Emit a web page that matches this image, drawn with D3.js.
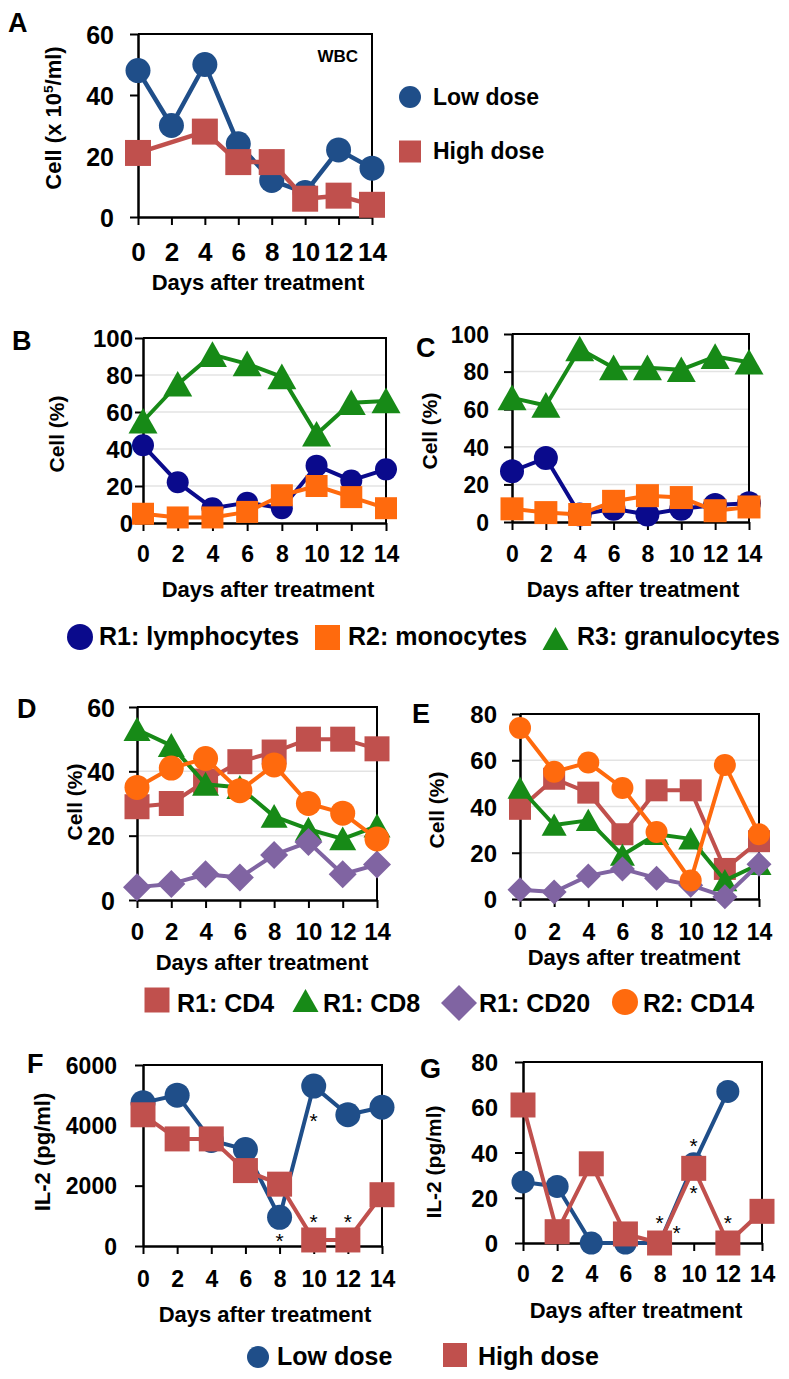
<!DOCTYPE html>
<html><head><meta charset="utf-8">
<script src="https://cdn.jsdelivr.net/npm/d3@7"></script>
<style>body{margin:0;background:#fff} svg{display:block}</style>
</head><body><svg id="c" width="789" height="1379"></svg>
<script>
const days = [0,2,4,6,8,10,12,14];
const dayLabels = ["0","2","4","6","8","10","12","14"];
// Panel A: WBC (x10^5/ml)
const wbcLow  = [48,30,50,24,12,8,22,16];
const wbcHigh = [21,null,28,18,18,6,7,4];
// Panel B: low dose populations (%)
const bLymph = [42,22,8,11,8,31,23,29];
const bMono  = [5,3,3,6,15,20,14,8];
const bGran  = [55,75,91,86,79,48,65,66];
// Panel C: high dose populations (%)
const cLymph = [27,34,4,7,4,7,9,10];
const cMono  = [7,5,4,11,14,13,6,8];
const cGran  = [66,62,92,82,82,81,88,85];
// Panel D: low dose markers (%)
const dCD4  = [29,30,37,43,46,50,50,47];
const dCD8  = [53,48,36,35,26,22,19,23];
const dCD20 = [4,5,8,7,14,18,8,11];
const dCD14 = [35,41,44,34,42,30,27,19];
// Panel E: high dose markers (%)
const eCD4  = [39,52,46,28,47,47,13,25];
const eCD8  = [48,32,34,19,28,26,8,15];
const eCD20 = [4,3,10,13,9,6,1,15];
const eCD14 = [74,55,59,48,29,8,58,28];
// Panel F: IL-2 (pg/ml)
const fLow  = [4750,5000,3500,3200,950,5300,4350,4600];
const fHigh = [4350,3550,3550,2500,2050,200,200,1700];
// Panel G: IL-2 (pg/ml)
const gLow  = [27,25,0,0,0,35,67,null];
const gHigh = [61,5,35,4,0,33,0,14];
// significance marks [day, value]
const fStars = [[8,300],[10,4280],[10,920],[12,920]];
const gStars = [[8,10.8],[9,6.4],[10,44.6],[10,24],[12,10.8]];

const yTicksA = [0,20,40,60];
const yTicks100 = [0,20,40,60,80,100];
const yTicks60 = [0,20,40,60];
const yTicks80 = [0,20,40,60,80];
const yTicksF = [0,2000,4000,6000];

const FONT = '"Liberation Sans", Arial, Helvetica, sans-serif';
const C = {
  low:"#1f4e89", high:"#c0504d", navy:"#0a0a8c", orange:"#ff6a0d",
  green:"#178a17", purple:"#8064a2", cd4:"#c0504d"
};
const svg = d3.select("#c");

function markerPath(shape, s) {
  if (shape==="circle") return d3.symbol(d3.symbolCircle, Math.PI*(s/2)*(s/2))();
  if (shape==="square") return d3.symbol(d3.symbolSquare, s*s)();
  if (shape==="diamond") { const h=s/2; return `M0,${-h}L${h},0L0,${h}L${-h},0Z`; }
  if (shape==="triangle") { const w=s, h=s*0.85; return `M0,${-h/2-1}L${w/2},${h/2}L${-w/2},${h/2}Z`; }
}

function txt(x, y, str, fs, opts={}) {
  return svg.append("text").attr("x",x).attr("y",y).text(str)
    .attr("font-family",FONT).attr("font-weight",opts.weight||"bold")
    .attr("font-size",fs).attr("fill","#000")
    .attr("text-anchor",opts.anchor||"start");
}

function panel(p) {
  const x = d3.scaleLinear().domain([0,14]).range([p.left,p.right]);
  const y = d3.scaleLinear().domain([0,p.ymax]).range([p.bottom,p.top]);
  const g = svg.append("g");
  if (p.grid) {
    g.selectAll("line.grid").data(p.yticks.filter(t=>t>0 && t<p.ymax)).enter()
      .append("line").attr("x1",p.left).attr("x2",p.right)
      .attr("y1",d=>y(d)).attr("y2",d=>y(d))
      .attr("stroke","#e3e3e3").attr("stroke-width",1.5);
  }
  g.append("path").attr("d",`M${p.left},${y(p.ymax)}H${p.right}V${p.bottom}`)
    .attr("fill","none").attr("stroke","#000").attr("stroke-width",2);
  const gx = g.append("g").attr("transform",`translate(0,${p.bottom})`)
    .call(d3.axisBottom(x).tickValues(days).tickFormat((d,i)=>dayLabels[i]).tickSize(8).tickSizeOuter(0));
  gx.attr("font-family",FONT).attr("font-size",p.xfs).attr("font-weight","bold");
  gx.select(".domain").attr("stroke","#000").attr("stroke-width",2.5);
  gx.selectAll(".tick line").attr("stroke","#000").attr("stroke-width",2);
  gx.selectAll(".tick text").attr("fill","#000").attr("y",p.xlabBase-p.bottom).attr("dy",0);
  const gy = g.append("g").attr("transform",`translate(${p.left},0)`)
    .call(d3.axisLeft(y).tickValues(p.yticks).tickSize(8).tickSizeOuter(0).tickFormat(d3.format("d")));
  gy.attr("font-family",FONT).attr("font-size",p.yfs).attr("font-weight","bold");
  gy.select(".domain").attr("stroke","#000").attr("stroke-width",2.5);
  gy.selectAll(".tick line").attr("stroke","#000").attr("stroke-width",2);
  gy.selectAll(".tick text").attr("fill","#000").attr("x",p.ylabRight-p.left).attr("dy","0.36em");
  p.series.forEach(s => {
    const pts = days.map((d,i)=>({d, v:s.vals[i]})).filter(q=>q.v!=null);
    g.append("path").datum(pts)
      .attr("d", d3.line().x(q=>x(q.d)).y(q=>y(q.v)))
      .attr("fill","none").attr("stroke",s.color).attr("stroke-width",p.lw)
      .attr("stroke-linejoin","round");
    g.selectAll(null).data(pts).enter().append("path")
      .attr("d", markerPath(s.shape, s.size))
      .attr("transform", q=>`translate(${x(q.d)},${y(q.v)})`)
      .attr("fill", s.color);
  });
  if (p.stars) {
    p.stars.forEach(([d,v]) => {
      txt(x(d), y(v)+11, "*", 21, {anchor:"middle", weight:"normal"});
    });
  }
  txt(p.xtitle[0], p.xtitle[1], "Days after treatment", p.xtfs, {anchor:"middle"});
  const yt = svg.append("text").attr("transform",`translate(${p.ytitle[0]},${p.ytitle[1]}) rotate(-90)`)
    .attr("dy","0.35em").attr("text-anchor","middle")
    .attr("font-family",FONT).attr("font-weight","bold").attr("font-size",p.ytfs).attr("fill","#000");
  if (p.ytitleParts) {
    yt.append("tspan").text(p.ytitleParts[0]);
    yt.append("tspan").attr("dy",-8).attr("font-size",p.ytfs*0.62).text(p.ytitleParts[1]);
    yt.append("tspan").attr("dy",8).text(p.ytitleParts[2]);
  } else yt.text(p.ytext);
  txt(p.letter[0], p.letter[1], p.letter[2], 27);
  return {x,y};
}

// ---- Panel A ----
panel({left:138,right:372,top:34,bottom:217,ymax:60,yticks:yTicksA,grid:false,
  xfs:26,xlabBase:261,yfs:25,ylabRight:114,xtitle:[258,290],xtfs:22,
  ytitle:[53,118],ytfs:22,ytitleParts:["Cell (x 10","5","/ml)"],letter:[8,32,"A"],lw:4.5,
  series:[{vals:wbcLow,color:C.low,shape:"circle",size:25},
          {vals:wbcHigh,color:C.high,shape:"square",size:26}]});
txt(358,62,"WBC",17,{anchor:"end"});
svg.append("path").attr("d",markerPath("circle",22)).attr("transform","translate(410,97)").attr("fill",C.low);
txt(433,105,"Low dose",23);
svg.append("path").attr("d",markerPath("square",22)).attr("transform","translate(410,151.5)").attr("fill",C.high);
txt(433,159,"High dose",23);

// ---- Panel B ----
panel({left:143,right:386,top:338,bottom:523,ymax:100,yticks:yTicks100,grid:true,
  xfs:23,xlabBase:562,yfs:24,ylabRight:133,xtitle:[268,597],xtfs:22,
  ytitle:[57,434],ytfs:21,ytext:"Cell (%)",letter:[12,350,"B"],lw:4,
  series:[{vals:bLymph,color:C.navy,shape:"circle",size:22},
          {vals:bMono,color:C.orange,shape:"square",size:22},
          {vals:bGran,color:C.green,shape:"triangle",size:29}]});
// ---- Panel C ----
panel({left:512,right:749,top:334,bottom:522,ymax:100,yticks:yTicks100,grid:true,
  xfs:23,xlabBase:562,yfs:23,ylabRight:489,xtitle:[633,597],xtfs:22,
  ytitle:[430,431],ytfs:21,ytext:"Cell (%)",letter:[416,357,"C"],lw:4,
  series:[{vals:cLymph,color:C.navy,shape:"circle",size:24},
          {vals:cMono,color:C.orange,shape:"square",size:23},
          {vals:cGran,color:C.green,shape:"triangle",size:29}]});
// legend B/C
svg.append("path").attr("d",markerPath("circle",26)).attr("transform","translate(80,637)").attr("fill",C.navy);
txt(99,645,"R1: lymphocytes",25);
svg.append("path").attr("d",markerPath("square",25)).attr("transform","translate(327.5,637.5)").attr("fill",C.orange);
txt(348,645,"R2: monocytes",25);
svg.append("path").attr("d",markerPath("triangle",26)).attr("transform","translate(555.5,639)").attr("fill",C.green);
txt(577,645,"R3: granulocytes",25);

// ---- Panel D ----
panel({left:137,right:377,top:707,bottom:900,ymax:60,yticks:yTicks60,grid:true,
  xfs:24,xlabBase:940,yfs:25,ylabRight:115,xtitle:[262,970],xtfs:22,
  ytitle:[75,802],ytfs:21,ytext:"Cell (%)",letter:[17,718,"D"],lw:4,
  series:[{vals:dCD4,color:C.cd4,shape:"square",size:25},
          {vals:dCD8,color:C.green,shape:"triangle",size:27},
          {vals:dCD20,color:C.purple,shape:"diamond",size:28},
          {vals:dCD14,color:C.orange,shape:"circle",size:25}]});
// ---- Panel E ----
panel({left:520,right:759,top:714,bottom:899,ymax:80,yticks:yTicks80,grid:true,
  xfs:23,xlabBase:940,yfs:24,ylabRight:497,xtitle:[634,965],xtfs:22,
  ytitle:[437,810],ytfs:21,ytext:"Cell (%)",letter:[412,723,"E"],lw:4,
  series:[{vals:eCD4,color:C.cd4,shape:"square",size:22},
          {vals:eCD8,color:C.green,shape:"triangle",size:25},
          {vals:eCD20,color:C.purple,shape:"diamond",size:25},
          {vals:eCD14,color:C.orange,shape:"circle",size:22}]});
// legend D/E
svg.append("path").attr("d",markerPath("square",25)).attr("transform","translate(157,1000)").attr("fill",C.cd4);
txt(177,1012,"R1: CD4",25);
svg.append("path").attr("d",markerPath("triangle",26)).attr("transform","translate(305.5,1001)").attr("fill",C.green);
txt(323,1012,"R1: CD8",25);
svg.append("path").attr("d",markerPath("diamond",36)).attr("transform","translate(459,1003)").attr("fill",C.purple);
txt(479,1012,"R1: CD20",25);
svg.append("path").attr("d",markerPath("circle",26)).attr("transform","translate(625,1002)").attr("fill",C.orange);
txt(643,1012,"R2: CD14",25);

// ---- Panel F ----
panel({left:143,right:382,top:1065,bottom:1246,ymax:6000,yticks:yTicksF,grid:false,
  xfs:23,xlabBase:1287,yfs:23,ylabRight:117,xtitle:[265,1322],xtfs:22,
  ytitle:[42,1152],ytfs:22,ytext:"IL-2 (pg/ml)",letter:[27,1073,"F"],lw:4,stars:fStars,
  series:[{vals:fLow,color:C.low,shape:"circle",size:25},
          {vals:fHigh,color:C.high,shape:"square",size:25}]});
// ---- Panel G ----
panel({left:523,right:762,top:1062,bottom:1243,ymax:80,yticks:yTicks80,grid:false,
  xfs:23,xlabBase:1282,yfs:24,ylabRight:498,xtitle:[636,1318],xtfs:22,
  ytitle:[434,1162],ytfs:21,ytext:"IL-2 (pg/ml)",letter:[420,1078,"G"],lw:4,stars:gStars,
  series:[{vals:gLow,color:C.low,shape:"circle",size:23},
          {vals:gHigh,color:C.high,shape:"square",size:25}]});
// legend F/G
svg.append("path").attr("d",markerPath("circle",22)).attr("transform","translate(258,1357)").attr("fill",C.low);
txt(277,1365,"Low dose",25);
svg.append("path").attr("d",markerPath("square",24)).attr("transform","translate(455,1355)").attr("fill",C.high);
txt(478,1365,"High dose",25);
</script></body></html>
